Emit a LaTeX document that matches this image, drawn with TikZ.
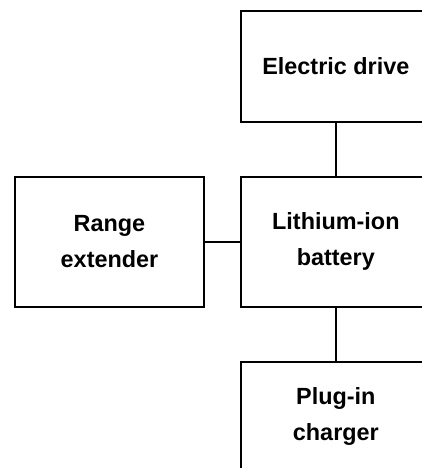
\documentclass[tikz,border=0pt]{standalone}
\usepackage{fontspec}
\setmainfont{Liberation Sans}
\begin{document}
\begin{tikzpicture}[x=1pt,y=1pt,
  blk/.style={draw=black, line width=1.8pt, rectangle, inner sep=0pt, minimum width=190pt, align=center,
    font=\fontsize{23.4}{36}\selectfont\bfseries},
  conn/.style={draw=black, line width=1.8pt}]
\useasboundingbox (0,0) rectangle (422,468);
\clip (0,0) rectangle (422,468);
\node[blk, minimum height=111pt] (drive) at (335.85,401.8) {Electric drive};
\node[blk, minimum height=130pt] (battery) at (335.85,226.3) {Lithium-ion\\battery};
\node[blk, minimum height=130pt, minimum width=189pt] (range) at (109.5,226.3) {Range\\extender};
\node[blk, minimum height=110pt] (charger) at (335.85,51.3) {Plug-in\\charger};
\draw[conn] (drive) -- (battery);
\draw[conn] (range) -- (battery);
\draw[conn] (battery) -- (charger);
\end{tikzpicture}
\end{document}
